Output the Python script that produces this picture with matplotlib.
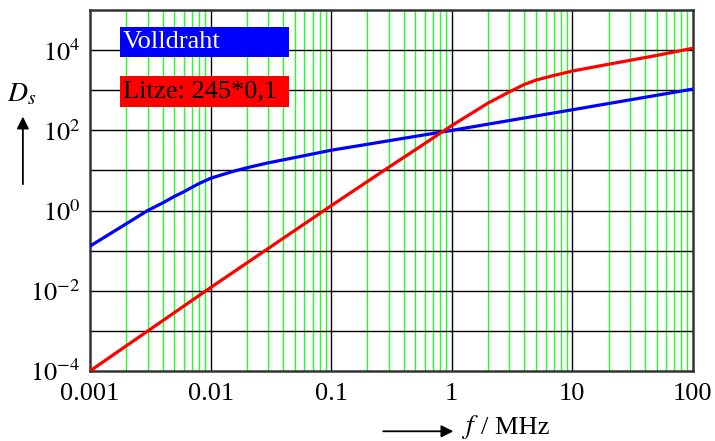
import matplotlib
matplotlib.use('Agg')
import matplotlib.pyplot as plt
from matplotlib.patches import Rectangle, FancyArrowPatch

plt.rcParams['font.family'] = ['Liberation Serif', 'DejaVu Serif']
plt.rcParams['mathtext.fontset'] = 'stix'

# Volldraht (blau)
blue_f = [0.001, 0.002, 0.003, 0.004, 0.005, 0.006, 0.007, 0.008, 0.01, 0.015, 0.02, 0.03,
          0.05, 0.1, 0.2, 0.5, 1, 2, 5, 10, 20, 50, 100]
blue_d = [0.13, 0.47, 1.0, 1.55, 2.25, 2.95, 3.8, 4.7, 6.4, 9.3, 11.7, 15.5,
          21, 32, 45, 71, 100, 143, 229, 327, 468, 750, 1072]

# Litze 245*0,1 (rot)
red_f = [0.001, 0.01, 0.1, 0.3, 0.5, 1, 1.5, 2, 3, 4, 5, 7, 10, 20, 50, 100]
red_d = [1e-4, 0.012, 1.32, 12, 33, 132, 280, 480, 910, 1400, 1800, 2340, 3020, 4470, 7400, 11200]

x_ticks = [0.001, 0.01, 0.1, 1, 10, 100]
x_labels = ['0.001', '0.01', '0.1', '1', '10', '100']
y_ticks = [1e-4, 1e-2, 1e0, 1e2, 1e4]
y_labels = [r'$10^{-4}$', r'$10^{-2}$', r'$10^{0}$', r'$10^{2}$', r'$10^{4}$']

fig = plt.figure(figsize=(7.15, 4.41), dpi=100)
ax = fig.add_axes([0.126, 0.159, 0.843, 0.818])
ax.set_xscale('log')
ax.set_yscale('log')
ax.set_xlim(0.001, 100)
ax.set_ylim(1e-4, 1e5)

# Gitter: gruen fuer 2..9, schwarz fuer Dekaden
for dec in [0.001, 0.01, 0.1, 1, 10]:
    for m in range(2, 10):
        ax.axvline(dec * m, color='#22ff22', lw=1.0, zorder=1)
for dec in [0.01, 0.1, 1, 10]:
    ax.axvline(dec, color='black', lw=1.0, zorder=1.5)
for e in range(-3, 5):
    ax.axhline(10.0 ** e, color='black', lw=1.0, zorder=1.5)

ax.plot(blue_f, blue_d, color='#0000ff', lw=2.3, zorder=3)
ax.plot(red_f, red_d, color='#ff0000', lw=2.3, zorder=3)

ax.set_xticks(x_ticks)
ax.set_xticklabels(x_labels)
ax.set_yticks(y_ticks)
ax.set_yticklabels(y_labels)
ax.minorticks_off()
ax.tick_params(length=0, labelsize=19, pad=7)
ax.tick_params(axis='x', pad=9)
for s in ax.spines.values():
    s.set_linewidth(1.8)
    s.set_color('#333333')

# Legendenkaesten
ax.add_patch(Rectangle((0.0498, 0.870), 0.280, 0.083, transform=ax.transAxes,
                       facecolor='#0000ff', edgecolor='none', zorder=4))
ax.text(0.054, 0.9115, 'Volldraht', transform=ax.transAxes, color='white',
        fontsize=19, va='center', ha='left', zorder=5)
ax.add_patch(Rectangle((0.0498, 0.731), 0.280, 0.086, transform=ax.transAxes,
                       facecolor='#ff0000', edgecolor='none', zorder=4))
ax.text(0.054, 0.774, 'Litze: 245*0,1', transform=ax.transAxes, color='black',
        fontsize=19, va='center', ha='left', zorder=5)

# Achsbeschriftungen mit Pfeilen
fig.text(0.030, 0.785, r'$D_s$', fontsize=20, ha='center', va='center')
fig.patches.append(FancyArrowPatch(
    (0.032, 0.576), (0.032, 0.742), transform=fig.transFigure,
    arrowstyle='-|>', mutation_scale=18, lw=1.3, color='black'))
fig.patches.append(FancyArrowPatch(
    (0.532, 0.022), (0.638, 0.022), transform=fig.transFigure,
    arrowstyle='-|>', mutation_scale=18, lw=1.3, color='black'))
fig.text(0.645, 0.032, r'$f$', fontsize=20, ha='left', va='center')
fig.text(0.673, 0.030, '/ MHz', fontsize=19, ha='left', va='center')

fig.savefig('out.png', dpi=100)
